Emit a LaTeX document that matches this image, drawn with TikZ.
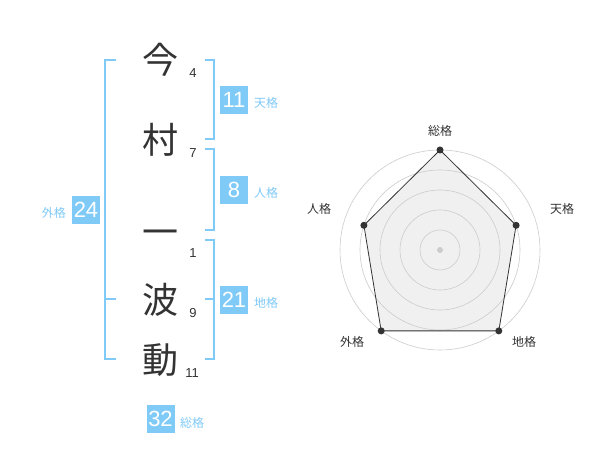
\documentclass[tikz,border=0pt]{standalone}
\usepackage{fontspec}
\setmainfont{Liberation Sans}
\newfontfamily\cjk{Noto Sans CJK JP}
\definecolor{skyb}{RGB}{128,202,248}
\definecolor{ink}{RGB}{51,51,51}
\definecolor{ringc}{RGB}{204,204,204}
\definecolor{polyfill}{RGB}{240,240,240}
\tikzset{
  kanji/.style={text=ink, font=\cjk\fontsize{36}{36}\selectfont, inner sep=0pt},
  strokes/.style={text=ink, font=\fontsize{13}{13}\selectfont, inner sep=0pt},
  valbox/.style={fill=skyb, text=white, minimum width=28pt, minimum height=28pt, inner sep=0pt, font=\fontsize{22}{22}\selectfont},
  kaku/.style={text=skyb, font=\cjk\fontsize{12}{12}\selectfont, inner sep=0pt},
  brk/.style={draw=skyb, line width=1.6pt},
  ring/.style={draw=ringc, line width=0.6pt},
  rlabel/.style={text=ink, font=\cjk\fontsize{12}{12}\selectfont, inner sep=0pt},
  rdot/.style={circle, fill=ink, minimum size=7pt, inner sep=0pt},
}
\begin{document}
\begin{tikzpicture}[x=1pt,y=-1pt]
\useasboundingbox[fill=white] (0,0) rectangle (600,470);
% characters
\node[kanji] (c1) at (160,60) {今};
\node[kanji] (c2) at (160,140) {村};
\node[kanji] (c3) at (160,238) {一};
\node[kanji] (c4) at (160,300) {波};
\node[kanji] (c5) at (160,360) {動};
\node[strokes] (n1) at (193,73) {4};
\node[strokes] (n2) at (193,153) {7};
\node[strokes] (n3) at (193,253) {1};
\node[strokes] (n4) at (193,313) {9};
\node[strokes] (n5) at (192,373) {11};
% brackets
\draw[brk] (116,60) -- (105,60) -- (105,359) -- (116,359);
\draw[brk] (105,299) -- (116,299);
\draw[brk] (205,60) -- (214,60) -- (214,139) -- (205,139);
\draw[brk] (205,149) -- (214,149) -- (214,230) -- (205,230);
\draw[brk] (205,240) -- (214,240) -- (214,359) -- (205,359);
\draw[brk] (205,299) -- (214,299);
% value boxes
\node[valbox] (ten) at (234,100) {11};
\node[kaku, anchor=west] (tenl) at (254,103) {天格};
\node[valbox] (jin) at (234,190) {8};
\node[kaku, anchor=west] (jinl) at (254,193) {人格};
\node[valbox] (chi) at (234,300) {21};
\node[kaku, anchor=west] (chil) at (254,303) {地格};
\node[valbox] (gai) at (86,210) {24};
\node[kaku, anchor=east] (gail) at (66,213) {外格};
\node[valbox] (sou) at (160.5,419) {32};
\node[kaku, anchor=west] (soul) at (180,423) {総格};
% radar
\coordinate (ctr) at (440,250);
\path (ctr) ++(0,-100) coordinate (pSou)
      (ctr) ++(76.1,-24.7) coordinate (pTen)
      (ctr) ++(58.8,80.9) coordinate (pChi)
      (ctr) ++(-58.8,80.9) coordinate (pGai)
      (ctr) ++(-76.1,-24.7) coordinate (pJin);
\fill[polyfill] (pSou) -- (pTen) -- (pChi) -- (pGai) -- (pJin) -- cycle;
\foreach \r in {20,40,60,80,100} \draw[ring] (ctr) circle[radius=\r];
\draw[draw=ink, line width=0.8pt] (pSou) -- (pTen) -- (pChi) -- (pGai) -- (pJin) -- cycle;
\foreach \p in {pSou,pTen,pChi,pGai,pJin} \node[rdot] at (\p) {};
\node[circle, fill=ringc, minimum size=6pt, inner sep=0pt] (cdot) at (ctr) {};
\node[rlabel] (lSou) at (440,131) {総格};
\node[rlabel] (lTen) at (562,209) {天格};
\node[rlabel] (lJin) at (319,209) {人格};
\node[rlabel] (lGai) at (352,342) {外格};
\node[rlabel] (lChi) at (524,342) {地格};
\end{tikzpicture}
\end{document}
